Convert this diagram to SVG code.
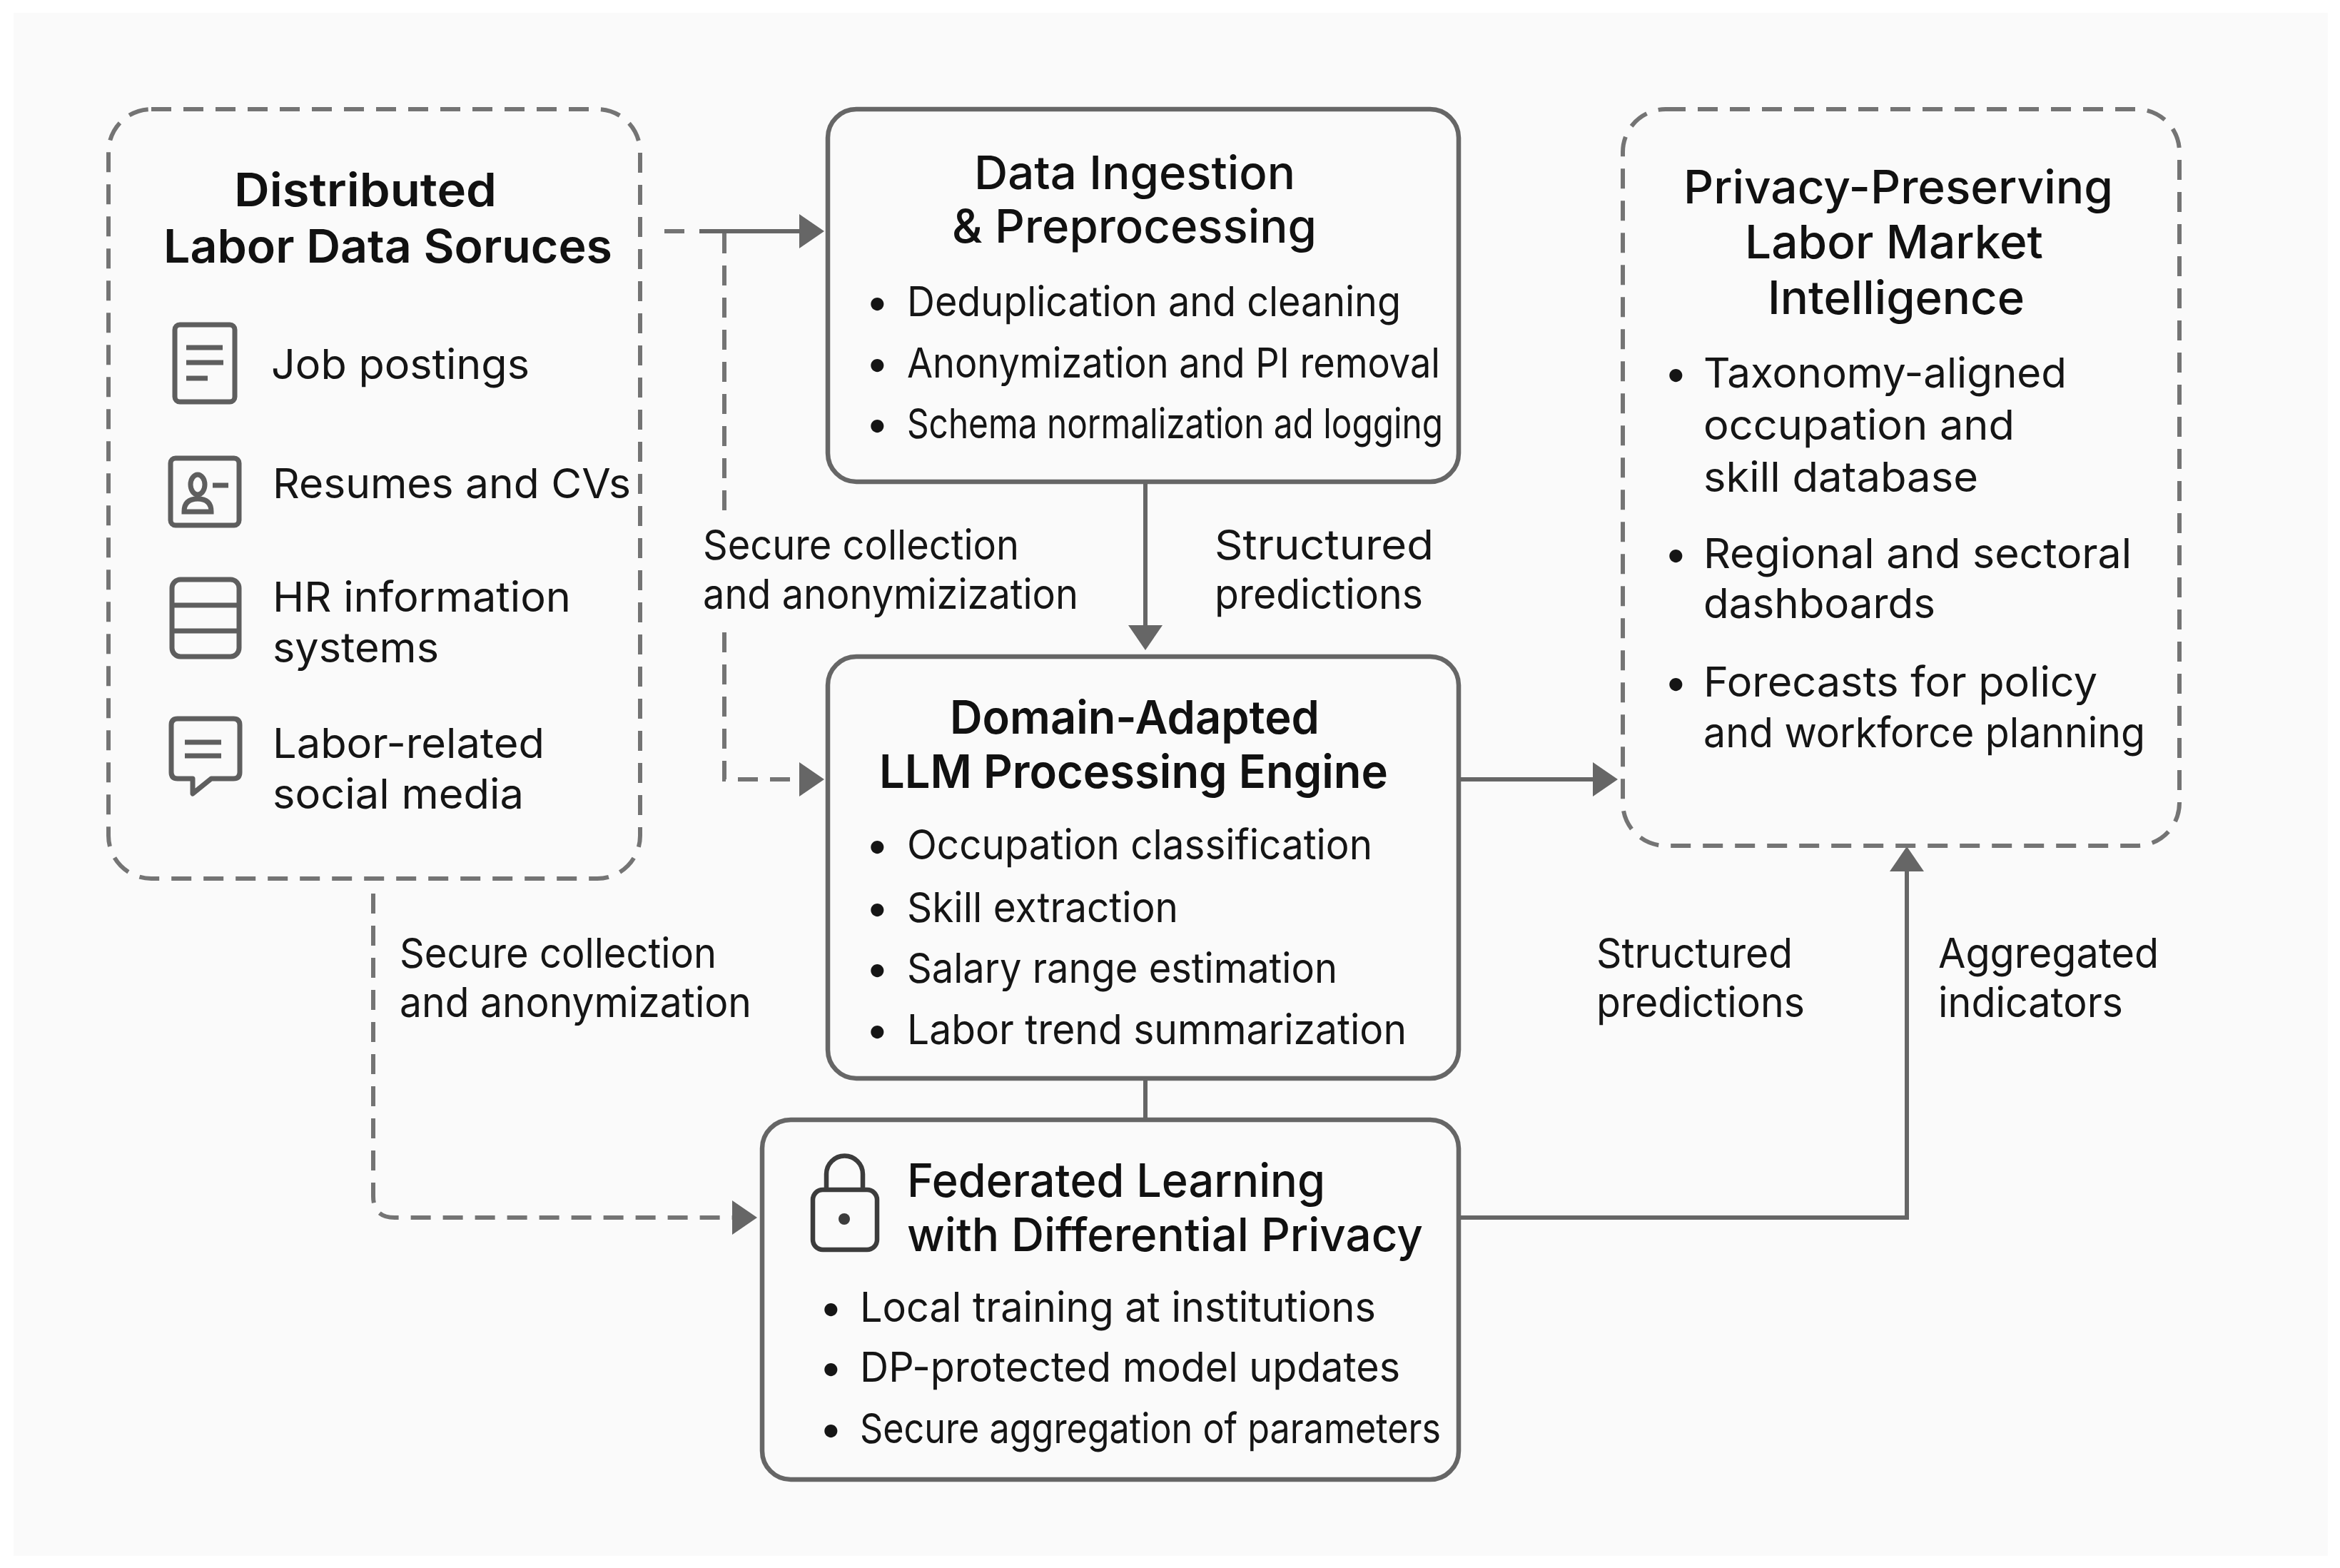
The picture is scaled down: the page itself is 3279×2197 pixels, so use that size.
<svg xmlns="http://www.w3.org/2000/svg" width="3279" height="2197" viewBox="0 0 3279 2197">
<style>
text{font-family:Inter,"Liberation Sans",sans-serif;fill:#151515;font-size:58px}
.t{font-size:65px;font-weight:600;fill:#111}
.m{font-weight:500}
.box{fill:none;stroke:#666;stroke-width:6.5}
.dbox{fill:none;stroke:#747474;stroke-width:6;stroke-dasharray:28 17}
.c{fill:none;stroke:#666;stroke-width:6}
.d{fill:none;stroke:#747474;stroke-width:6;stroke-dasharray:28 17}
.i{fill:none;stroke:#5e5e5e;stroke-width:7;stroke-linejoin:round}
.il{fill:none;stroke:#5e5e5e;stroke-width:7}
.lk{fill:none;stroke:#3c3c3c;stroke-width:6.5}
</style>
<defs>
<marker id="ah" markerUnits="userSpaceOnUse" markerWidth="36" markerHeight="50" refX="0" refY="25" orient="auto"><path d="M0,1 L35,25 L0,49 Z" fill="#666"/></marker>
</defs>
<rect x="0" y="0" width="3279" height="2197" fill="#fff"/>
<rect x="19" y="18" width="3243" height="2162" fill="#fafafa"/>
<g id="connectors">
<path class="d" d="M931,324 H962"/>
<path class="c" d="M980,324 H1120" marker-end="url(#ah)"/>
<path class="d" d="M1015,327 V731"/>
<path class="d" d="M1015,886 V1092 H1120" marker-end="url(#ah)"/>
<path class="c" d="M1605,675 V876" marker-end="url(#ah)"/>
<path class="c" d="M2046,1092 H2232" marker-end="url(#ah)"/>
<path class="d" d="M523,1252 V1676 Q523,1706 553,1706 H1026" marker-end="url(#ah)"/>
<path class="c" d="M1605,1511 V1568"/>
<path class="c" d="M2046,1706 H2672 V1221" marker-end="url(#ah)"/>
</g>
<g id="sources">
<rect class="dbox" x="152" y="153" width="745" height="1078" rx="60"/>
<text class="t" x="328" y="289" textLength="368" lengthAdjust="spacingAndGlyphs">Distributed</text>
<text class="t" x="229" y="368" textLength="629" lengthAdjust="spacingAndGlyphs">Labor Data Soruces</text>
<g id="icon-doc"><rect class="i" x="245" y="455" width="84" height="108" rx="7"/><path class="il" d="M261,487 H312 M261,508 H313 M261,530 H291"/></g>
<text x="380" y="531" textLength="362" lengthAdjust="spacingAndGlyphs">Job postings</text>
<g id="icon-id"><rect class="i" x="239" y="642" width="96" height="94" rx="7"/><ellipse class="il" cx="277" cy="679" rx="10" ry="14"/><path class="il" d="M258,717 Q258,699 277,699 Q296,699 296,717 Z M298,680 H320"/></g>
<text x="382" y="698" textLength="502" lengthAdjust="spacingAndGlyphs">Resumes and CVs</text>
<g id="icon-hr"><rect class="i" x="241" y="812" width="94" height="108" rx="12"/><path class="il" d="M241,848 H335 M241,884 H335"/></g>
<text x="382" y="857" textLength="418" lengthAdjust="spacingAndGlyphs">HR information</text>
<text x="382" y="928" textLength="233" lengthAdjust="spacingAndGlyphs">systems</text>
<g id="icon-chat"><path class="i" d="M249,1007 H327 Q336,1007 336,1016 V1082 Q336,1091 327,1091 H296 L270,1112 V1091 H249 Q240,1091 240,1082 V1016 Q240,1007 249,1007 Z"/><path class="il" d="M259,1040 H310 M259,1059 H310"/></g>
<text x="382" y="1062" textLength="381" lengthAdjust="spacingAndGlyphs">Labor-related</text>
<text x="382" y="1133" textLength="352" lengthAdjust="spacingAndGlyphs">social media</text>
</g>
<g id="ingestion">
<rect class="box" x="1160" y="153" width="884" height="522" rx="40"/>
<text class="t m" x="1365" y="265" textLength="450" lengthAdjust="spacingAndGlyphs">Data Ingestion</text>
<text class="t m" x="1334" y="340" textLength="511" lengthAdjust="spacingAndGlyphs">&amp; Preprocessing</text>
<text x="1213" y="443">•</text><text x="1271" y="443" textLength="692" lengthAdjust="spacingAndGlyphs">Deduplication and cleaning</text>
<text x="1213" y="529">•</text><text x="1271" y="529" textLength="747" lengthAdjust="spacingAndGlyphs">Anonymization and PI removal</text>
<text x="1213" y="614">•</text><text x="1271" y="614" textLength="751" lengthAdjust="spacingAndGlyphs">Schema normalization ad logging</text>
</g>
<g id="engine">
<rect class="box" x="1160" y="920" width="884" height="591" rx="40"/>
<text class="t" x="1331" y="1028" textLength="518" lengthAdjust="spacingAndGlyphs">Domain-Adapted</text>
<text class="t" x="1232" y="1104" textLength="713" lengthAdjust="spacingAndGlyphs">LLM Processing Engine</text>
<text x="1213" y="1204">•</text><text x="1271" y="1204" textLength="652" lengthAdjust="spacingAndGlyphs">Occupation classification</text>
<text x="1213" y="1292">•</text><text x="1271" y="1292" textLength="380" lengthAdjust="spacingAndGlyphs">Skill extraction</text>
<text x="1213" y="1377">•</text><text x="1271" y="1377" textLength="603" lengthAdjust="spacingAndGlyphs">Salary range estimation</text>
<text x="1213" y="1463">•</text><text x="1271" y="1463" textLength="700" lengthAdjust="spacingAndGlyphs">Labor trend summarization</text>
</g>
<g id="federated">
<rect class="box" x="1068" y="1569" width="976" height="504" rx="40"/>
<g id="icon-lock"><rect class="lk" x="1139" y="1667" width="90" height="84" rx="14"/><path class="lk" d="M1158,1667 V1645 A25,25 0 0 1 1209,1645 V1667"/><circle cx="1183" cy="1708" r="8" fill="#3c3c3c"/></g>
<text class="t m" x="1271" y="1677" textLength="586" lengthAdjust="spacingAndGlyphs">Federated Learning</text>
<text class="t m" x="1271" y="1753" textLength="723" lengthAdjust="spacingAndGlyphs">with Differential Privacy</text>
<text x="1148" y="1852">•</text><text x="1205" y="1852" textLength="723" lengthAdjust="spacingAndGlyphs">Local training at institutions</text>
<text x="1148" y="1936">•</text><text x="1205" y="1936" textLength="757" lengthAdjust="spacingAndGlyphs">DP-protected model updates</text>
<text x="1148" y="2022">•</text><text x="1205" y="2022" textLength="814" lengthAdjust="spacingAndGlyphs">Secure aggregation of parameters</text>
</g>
<g id="intelligence">
<rect class="dbox" x="2274" y="153" width="780" height="1032" rx="60"/>
<text class="t m" x="2359" y="285" textLength="602" lengthAdjust="spacingAndGlyphs">Privacy-Preserving</text>
<text class="t m" x="2445" y="362" textLength="418" lengthAdjust="spacingAndGlyphs">Labor Market</text>
<text class="t m" x="2477" y="440" textLength="360" lengthAdjust="spacingAndGlyphs">Intelligence</text>
<text x="2332" y="543">•</text><text x="2387" y="543" textLength="509" lengthAdjust="spacingAndGlyphs">Taxonomy-aligned</text>
<text x="2387" y="616" textLength="436" lengthAdjust="spacingAndGlyphs">occupation and</text>
<text x="2387" y="689" textLength="385" lengthAdjust="spacingAndGlyphs">skill database</text>
<text x="2332" y="796">•</text><text x="2387" y="796" textLength="600" lengthAdjust="spacingAndGlyphs">Regional and sectoral</text>
<text x="2387" y="866" textLength="325" lengthAdjust="spacingAndGlyphs">dashboards</text>
<text x="2332" y="976">•</text><text x="2387" y="976" textLength="552" lengthAdjust="spacingAndGlyphs">Forecasts for policy</text>
<text x="2387" y="1047" textLength="619" lengthAdjust="spacingAndGlyphs">and workforce planning</text>
</g>
<g id="labels">
<text x="985" y="784" textLength="443" lengthAdjust="spacingAndGlyphs">Secure collection</text>
<text x="985" y="853" textLength="526" lengthAdjust="spacingAndGlyphs">and anonymizization</text>
<text x="1702" y="784" textLength="307" lengthAdjust="spacingAndGlyphs">Structured</text>
<text x="1702" y="853" textLength="292" lengthAdjust="spacingAndGlyphs">predictions</text>
<text x="560" y="1356" textLength="444" lengthAdjust="spacingAndGlyphs">Secure collection</text>
<text x="560" y="1425" textLength="493" lengthAdjust="spacingAndGlyphs">and anonymization</text>
<text x="2237" y="1356" textLength="275" lengthAdjust="spacingAndGlyphs">Structured</text>
<text x="2237" y="1425" textLength="292" lengthAdjust="spacingAndGlyphs">predictions</text>
<text x="2716" y="1356" textLength="309" lengthAdjust="spacingAndGlyphs">Aggregated</text>
<text x="2716" y="1425" textLength="259" lengthAdjust="spacingAndGlyphs">indicators</text>
</g>
</svg>
